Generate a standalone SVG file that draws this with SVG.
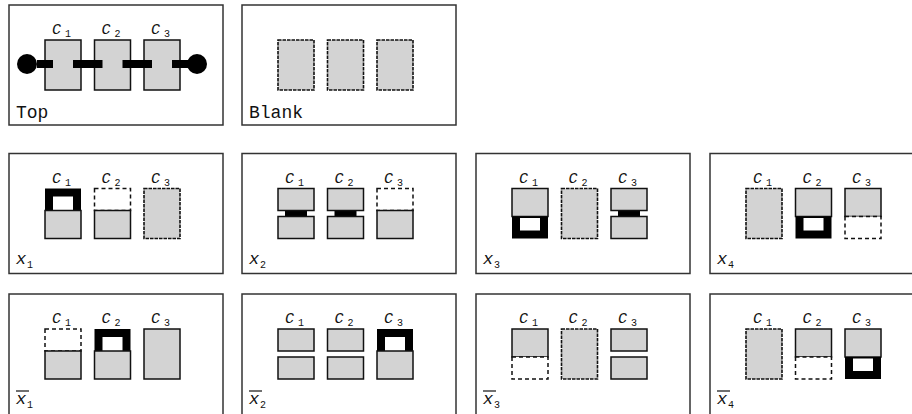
<svg xmlns="http://www.w3.org/2000/svg" width="912" height="414" viewBox="0 0 912 414">
<style>
.frame{fill:#fff;stroke:#333;stroke-width:1.5}
.g{fill:#d3d3d3;stroke:#111;stroke-width:1.5}
.gd{fill:#d3d3d3;stroke:#111;stroke-width:1.6;stroke-dasharray:3.5 1}
.d{fill:#fff;stroke:#111;stroke-width:1.5;stroke-dasharray:4 3}
.k{fill:#000}
.w{fill:#fff}
.lab{font-family:"Liberation Mono",monospace;font-size:18px;fill:#111}
.c{font-family:"Liberation Mono",monospace;font-style:italic;font-size:15px;fill:#111}
.s{font-family:"Liberation Mono",monospace;font-size:10px;fill:#111}
.x{font-family:"Liberation Mono",monospace;font-style:italic;font-size:17px;fill:#111}
.ol{stroke:#111;stroke-width:1.2}
</style>
<defs>
<g id="cl">
<text class="c" x="43" y="29">C</text><text class="s" x="56" y="32">1</text>
<text class="c" x="92.5" y="29">C</text><text class="s" x="105.5" y="32">2</text>
<text class="c" x="142" y="29">C</text><text class="s" x="155" y="32">3</text>
</g>
</defs>

<g id="top" transform="translate(9,5)">
<rect class="frame" x="0" y="0" width="214" height="120"/>
<use href="#cl"/>
<rect class="g" x="36" y="35" width="36" height="50"/>
<rect class="g" x="85.5" y="35" width="36" height="50"/>
<rect class="g" x="135" y="35" width="36" height="50"/>
<g id="connectors">
<rect class="k" x="28" y="55" width="16" height="8"/>
<rect class="k" x="64" y="55" width="29.5" height="8"/>
<rect class="k" x="113.5" y="55" width="29.5" height="8"/>
<rect class="k" x="163" y="55" width="17" height="8"/>
<circle class="k" cx="18" cy="59" r="10"/>
<circle class="k" cx="188" cy="59" r="10"/>
</g>
<text class="lab" x="7" y="113">Top</text>
</g>

<g id="blank" transform="translate(242,5)">
<rect class="frame" x="0" y="0" width="214" height="120"/>
<rect class="gd" x="36" y="35" width="36" height="50"/>
<rect class="gd" x="85.5" y="35" width="36" height="50"/>
<rect class="gd" x="135" y="35" width="36" height="50"/>
<text class="lab" x="7" y="113">Blank</text>
</g>

<!-- x1 -->
<g id="x1" transform="translate(9,153.5)">
<rect class="frame" x="0" y="0" width="214" height="120"/>
<use href="#cl"/>
<rect class="k" x="36" y="35" width="36" height="22"/><rect class="w" x="44" y="43" width="20" height="14"/>
<rect class="g" x="36" y="57" width="36" height="28"/>
<rect class="d" x="85.5" y="35" width="36" height="22"/>
<rect class="g" x="85.5" y="57" width="36" height="28"/>
<rect class="gd" x="135" y="35" width="36" height="50"/>
<text class="x" x="7" y="110">x</text><text class="s" x="18" y="114">1</text>
</g>

<!-- x2 -->
<g id="x2" transform="translate(242,153.5)">
<rect class="frame" x="0" y="0" width="214" height="120"/>
<use href="#cl"/>
<rect class="k" x="43" y="56" width="22" height="8"/>
<rect class="g" x="36" y="35" width="36" height="22"/>
<rect class="g" x="36" y="63" width="36" height="22"/>
<rect class="k" x="92.5" y="56" width="22" height="8"/>
<rect class="g" x="85.5" y="35" width="36" height="22"/>
<rect class="g" x="85.5" y="63" width="36" height="22"/>
<rect class="d" x="135" y="35" width="36" height="22"/>
<rect class="g" x="135" y="57" width="36" height="28"/>
<text class="x" x="7" y="110">x</text><text class="s" x="18" y="114">2</text>
</g>

<!-- x3 -->
<g id="x3" transform="translate(476,153.5)">
<rect class="frame" x="0" y="0" width="214" height="120"/>
<use href="#cl"/>
<rect class="g" x="36" y="35" width="36" height="28"/>
<rect class="k" x="36" y="63" width="36" height="22"/><rect class="w" x="44" y="64.5" width="20" height="12.5"/>
<rect class="gd" x="85.5" y="35" width="36" height="50"/>
<rect class="k" x="142" y="56" width="22" height="8"/>
<rect class="g" x="135" y="35" width="36" height="22"/>
<rect class="g" x="135" y="63" width="36" height="22"/>
<text class="x" x="7" y="110">x</text><text class="s" x="18" y="114">3</text>
</g>

<!-- x4 -->
<g id="x4" transform="translate(710,153.5)">
<rect class="frame" x="0" y="0" width="214" height="120"/>
<use href="#cl"/>
<rect class="gd" x="36" y="35" width="36" height="50"/>
<rect class="g" x="85.5" y="35" width="36" height="28"/>
<rect class="k" x="85.5" y="63" width="36" height="22"/><rect class="w" x="93.5" y="64.5" width="20" height="12.5"/>
<rect class="g" x="135" y="35" width="36" height="28"/>
<rect class="d" x="135" y="63" width="36" height="22"/>
<text class="x" x="7" y="110">x</text><text class="s" x="18" y="114">4</text>
</g>

<!-- x1 bar -->
<g id="nx1" transform="translate(9,294)">
<rect class="frame" x="0" y="0" width="214" height="124"/>
<use href="#cl"/>
<rect class="d" x="36" y="35" width="36" height="22"/>
<rect class="g" x="36" y="57" width="36" height="28"/>
<rect class="k" x="85.5" y="35" width="36" height="22"/><rect class="w" x="93.5" y="43" width="20" height="14"/>
<rect class="g" x="85.5" y="57" width="36" height="28"/>
<rect class="g" x="135" y="35" width="36" height="50"/>
<line class="ol" x1="7" y1="97" x2="20" y2="97"/>
<text class="x" x="7" y="110">x</text><text class="s" x="18" y="114">1</text>
</g>

<!-- x2 bar -->
<g id="nx2" transform="translate(242,294)">
<rect class="frame" x="0" y="0" width="214" height="124"/>
<use href="#cl"/>
<rect class="g" x="36" y="35" width="36" height="22"/>
<rect class="g" x="36" y="63" width="36" height="22"/>
<rect class="g" x="85.5" y="35" width="36" height="22"/>
<rect class="g" x="85.5" y="63" width="36" height="22"/>
<rect class="k" x="135" y="35" width="36" height="22"/><rect class="w" x="143" y="43" width="20" height="14"/>
<rect class="g" x="135" y="57" width="36" height="28"/>
<line class="ol" x1="7" y1="97" x2="20" y2="97"/>
<text class="x" x="7" y="110">x</text><text class="s" x="18" y="114">2</text>
</g>

<!-- x3 bar -->
<g id="nx3" transform="translate(476,294)">
<rect class="frame" x="0" y="0" width="214" height="124"/>
<use href="#cl"/>
<rect class="g" x="36" y="35" width="36" height="28"/>
<rect class="d" x="36" y="63" width="36" height="22"/>
<rect class="gd" x="85.5" y="35" width="36" height="50"/>
<rect class="g" x="135" y="35" width="36" height="22"/>
<rect class="g" x="135" y="63" width="36" height="22"/>
<line class="ol" x1="7" y1="97" x2="20" y2="97"/>
<text class="x" x="7" y="110">x</text><text class="s" x="18" y="114">3</text>
</g>

<!-- x4 bar -->
<g id="nx4" transform="translate(710,294)">
<rect class="frame" x="0" y="0" width="214" height="124"/>
<use href="#cl"/>
<rect class="gd" x="36" y="35" width="36" height="50"/>
<rect class="g" x="85.5" y="35" width="36" height="28"/>
<rect class="d" x="85.5" y="63" width="36" height="22"/>
<rect class="g" x="135" y="35" width="36" height="28"/>
<rect class="k" x="135" y="63" width="36" height="22"/><rect class="w" x="143" y="64.5" width="20" height="12.5"/>
<line class="ol" x1="7" y1="97" x2="20" y2="97"/>
<text class="x" x="7" y="110">x</text><text class="s" x="18" y="114">4</text>
</g>
</svg>
